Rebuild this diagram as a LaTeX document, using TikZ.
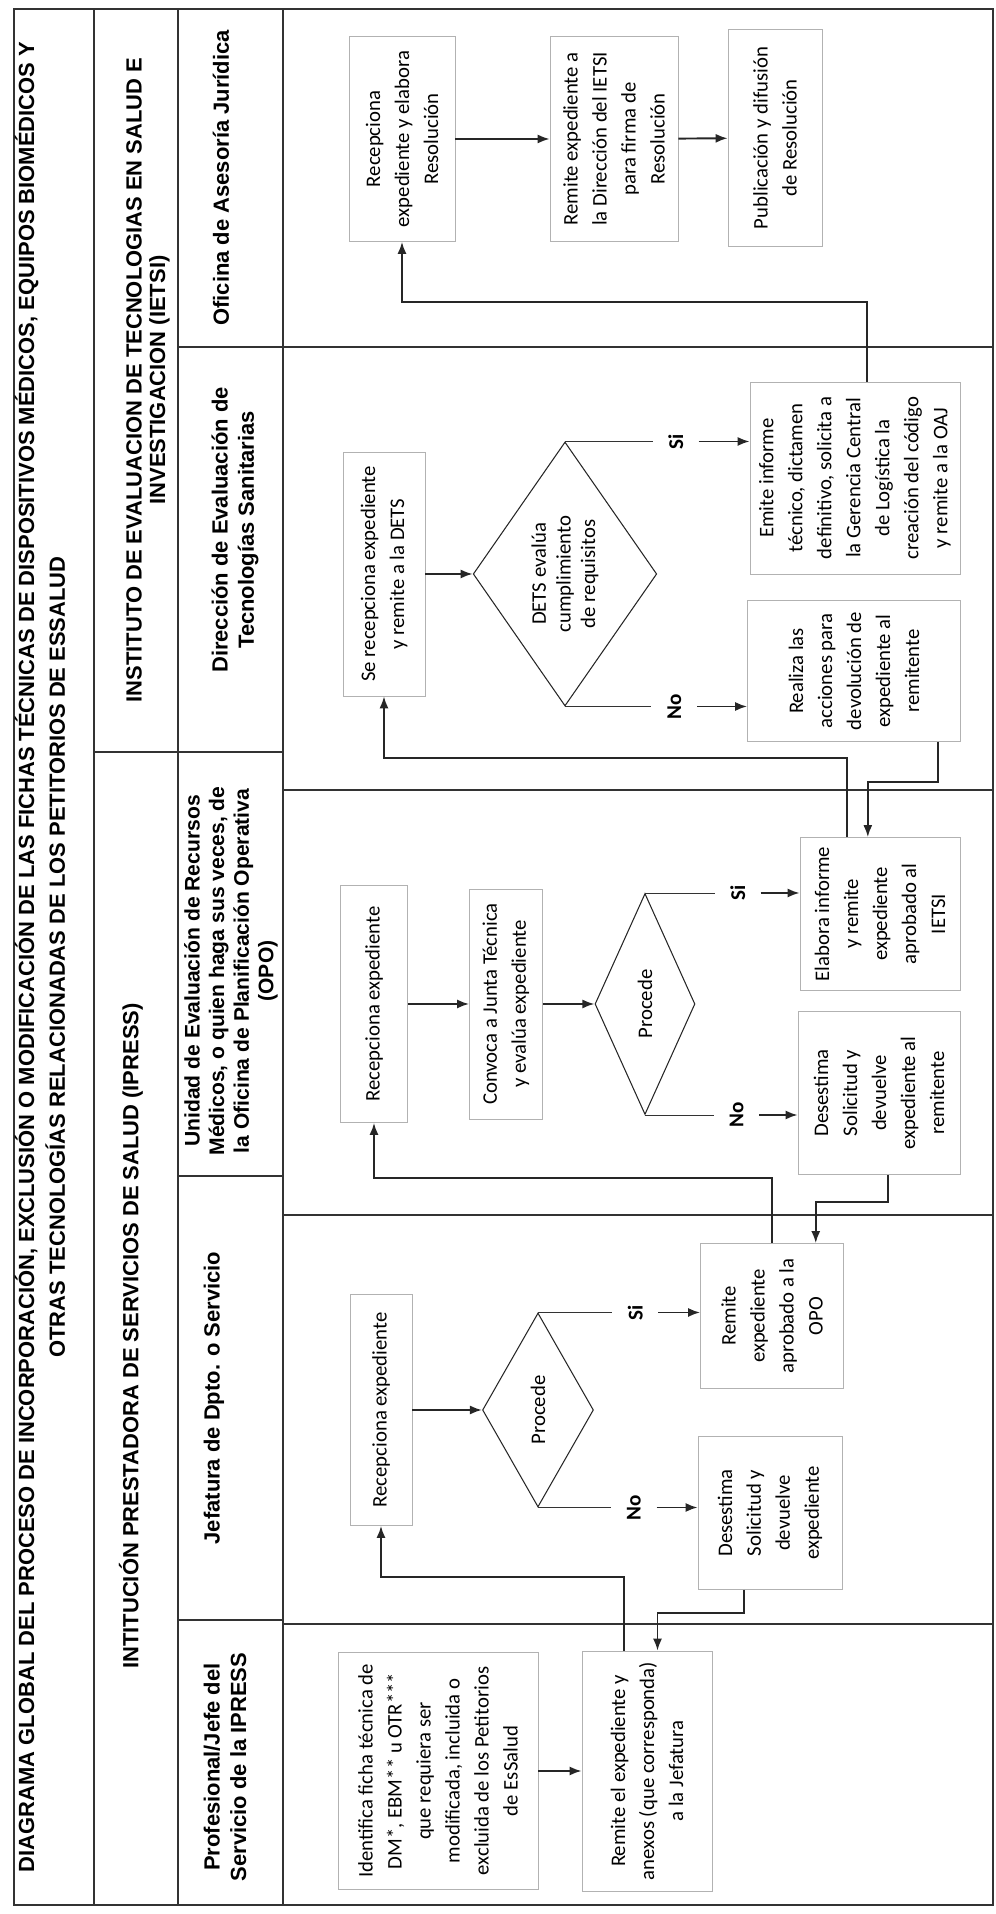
\documentclass[tikz,border=0pt]{standalone}
\usepackage{fontspec}
\setmainfont{Carlito}
\newfontfamily\arial{Liberation Sans}
\usetikzlibrary{shapes.geometric,arrows.meta}

\tikzset{
  caja/.style={draw=gray!60, inner sep=1pt, align=center, font=\fontsize{11.8}{16.5}\selectfont},
  decision/.style={diamond, draw=black!85, semithick, inner sep=0pt, align=center, font=\fontsize{11.8}{14}\selectfont},
  rama/.style={inner sep=0pt, minimum height=0.9cm, font=\bfseries\fontsize{12}{14}\selectfont},
  cabecera/.style={align=center, font=\arial\bfseries\fontsize{12.5}{15}\selectfont},
  flecha/.style={->, line width=1.1pt, black!85},
  guia/.style={black!80, line width=0.5pt},
  tabla/.style={black!80, line width=0.6pt},
}

\begin{document}
\begin{tikzpicture}[rotate=90, transform shape, x=0.02cm, y=0.02cm, >={Latex[length=2.4mm,width=1.8mm]}]
\useasboundingbox (0,0) rectangle (1914,996);

% Tabla
\draw[tabla] (9,3) rectangle (1905,982);
\draw[tabla] (9,902) -- (1905,902);
\draw[tabla] (9,818) -- (1905,818);
\draw[tabla] (9,713) -- (1905,713);
\draw[tabla] (1567,3) -- (1567,818);
\draw[tabla] (1162,713) -- (1162,902);
\draw[tabla] (1124,3) -- (1124,713);
\draw[tabla] (738,713) -- (738,818);
\draw[tabla] (699,3) -- (699,713);
\draw[tabla] (294,713) -- (294,818);
\draw[tabla] (290,3) -- (290,713);

% Cabeceras
\node[cabecera, font=\arial\bfseries\fontsize{12.5}{17.5}\selectfont] (titulo) at (957,956) {DIAGRAMA GLOBAL DEL PROCESO DE INCORPORACIÓN, EXCLUSIÓN O MODIFICACIÓN DE LAS FICHAS TÉCNICAS DE DISPOSITIVOS MÉDICOS, EQUIPOS BIOMÉDICOS Y\\OTRAS TECNOLOGÍAS RELACIONADAS DE LOS PETITORIOS DE ESSALUD};
\node[cabecera, font=\arial\bfseries\fontsize{12.5}{13.5}\selectfont] (ietsi) at (1534,848) {INSTITUTO DE EVALUACION DE TECNOLOGIAS EN SALUD E\\INVESTIGACION (IETSI)};
\node[cabecera] (ipress) at (578,865) {INTITUCIÓN PRESTADORA DE SERVICIOS DE SALUD (IPRESS)};
\node[cabecera] (h1) at (1736,775) {Oficina de Asesoría Jurídica};
\node[cabecera] (h2) at (1384,761) {Dirección de Evaluación de\\Tecnologías Sanitarias};
\node[cabecera, font=\arial\bfseries\fontsize{12}{14}\selectfont] (h3) at (943,765) {Unidad de Evaluación de Recursos\\Médicos, o quien haga sus veces, de\\la Oficina de Planificación Operativa\\(OPO)};
\node[cabecera] (h4) at (516,782) {Jefatura de Dpto. o Servicio};
\node[cabecera] (h5) at (147,771) {Profesional/Jefe del\\Servicio de la IPRESS};

% 1. Oficina de Asesoría Jurídica
\node[caja, minimum width=4.1cm, minimum height=2.12cm] (oaj1) at (1775,594) {Recepciona\\expediente y elabora\\Resolución};
\node[caja, minimum width=4.1cm, minimum height=2.56cm] (oaj2) at (1775,382) {Remite expediente a\\la Dirección del IETSI\\para firma de\\Resolución};
\node[caja, minimum width=4.34cm, minimum height=1.88cm] (oaj3) at (1776,221) {Publicación y difusión\\de Resolución};

% 2. DETS
\node[caja, minimum width=4.88cm, minimum height=1.64cm] (dets1) at (1340,612) {Se recepciona expediente\\y remite a la DETS};
\node[decision, minimum width=5.28cm, minimum height=3.3cm] (dets2) at (1340,431) {DETS evalúa\\cumplimiento\\de requisitos};
\node[caja, minimum width=3.84cm, minimum height=4.2cm] (emite) at (1436,141) {Emite informe\\técnico, dictamen\\definitivo, solicita a\\la Gerencia Central\\de Logística la\\creación del código\\y remite a la OAJ};
\node[caja, minimum width=2.82cm, minimum height=4.26cm] (realiza) at (1243,142) {Realiza las\\acciones para\\devolución de\\expediente al\\remitente};

% 3. OPO
\node[caja, minimum width=4.74cm, minimum height=1.34cm] (opo1) at (910,622) {Recepciona expediente};
\node[caja, minimum width=4.6cm, minimum height=1.46cm] (opo2) at (910,490) {Convoca a Junta Técnica\\y evalúa expediente};
\node[decision, minimum width=4.42cm, minimum height=2cm] (opo3) at (910,351) {Procede};
\node[caja, minimum width=3.06cm, minimum height=3.2cm] (opo4) at (1000,116) {Elabora informe\\y remite\\expediente\\aprobado al\\IETSI};
\node[caja, minimum width=3.26cm, minimum height=3.24cm] (opo5) at (821,117) {Desestima\\Solicitud y\\devuelve\\expediente al\\remitente};

% 4. Jefatura
\node[caja, minimum width=4.62cm, minimum height=1.24cm] (jef1) at (504,615) {Recepciona expediente};
\node[decision, minimum width=3.88cm, minimum height=2.22cm] (jef2) at (504,458) {Procede};
\node[caja, minimum width=2.9cm, minimum height=2.86cm] (jef3) at (598,224) {Remite\\expediente\\aprobado a la\\OPO};
\node[caja, minimum width=3.06cm, minimum height=2.88cm] (jef4) at (401,226) {Desestima\\Solicitud y\\devuelve\\expediente};

% 5. Profesional
\node[caja, minimum width=4.74cm, minimum height=4cm] (prof1) at (143,558) {Identifica ficha técnica de\\DM*, EBM** u OTR***\\que requiera ser\\modificada, incluida o\\excluida de los Petitorios\\de EsSalud};
\node[caja, minimum width=4.8cm, minimum height=2.6cm] (prof2) at (143,349) {Remite el expediente y\\anexos (que corresponda)\\a la Jefatura};

% Flechas
\draw[flecha] (oaj1) -- (oaj2);
\draw[flecha] (oaj2) -- (oaj3);
\draw[flecha] (dets1) -- (dets2);
\draw[flecha] (opo1) -- (opo2);
\draw[flecha] (opo2) -- (opo3);
\draw[flecha] (jef1) -- (jef2);
\draw[flecha] (prof1) -- (prof2);

% Si / No
\path (dets2.east) -- (dets2.east |- emite.north) node[rama, pos=.6] (si1) {Si};
\path (dets2.west) -- (dets2.west |- realiza.north) node[rama, pos=.6] (no1) {No};
\path (opo3.east) -- (opo3.east |- opo4.north) node[rama, pos=.6] (si2) {Si};
\path (opo3.west) -- (opo3.west |- opo5.north) node[rama, pos=.6] (no2) {No};
\path (jef2.east) -- (jef2.east |- jef3.north) node[rama, pos=.6] (si3) {Si};
\path (jef2.west) -- (jef2.west |- jef4.north) node[rama, pos=.6] (no3) {No};
\draw[guia] (dets2.east) -- (si1);  \draw[flecha] (si1) -- (dets2.east |- emite.north);
\draw[guia] (dets2.west) -- (no1);  \draw[flecha] (no1) -- (dets2.west |- realiza.north);
\draw[guia] (opo3.east) -- (si2);   \draw[flecha] (si2) -- (opo3.east |- opo4.north);
\draw[guia] (opo3.west) -- (no2);   \draw[flecha] (no2) -- (opo3.west |- opo5.north);
\draw[guia] (jef2.east) -- (si3);   \draw[flecha] (si3) -- (jef2.east |- jef3.north);
\draw[guia] (jef2.west) -- (no3);   \draw[flecha] (no3) -- (jef2.west |- jef4.north);

% Retornos entre carriles
\draw[flecha] (emite.353) -- ++(80,0) |- (oaj1.west);
\draw[flecha] (realiza.230) -- ++(-40,0) |- (opo4.9);
\draw[flecha] (opo4.23) -- ++(79,0) |- (dets1.west);
\draw[flecha] (opo5.186) -- ++(-27,0) |- (jef3.329);
\draw[flecha] (jef3.east) -- ++(65,0) |- (opo1.west);
\draw[flecha] (jef4.161) -- ++(-23,0) |- (prof2.355);
\draw[flecha] (prof2.11) -- ++(74,0) |- (jef1.west);
\end{tikzpicture}
\end{document}
